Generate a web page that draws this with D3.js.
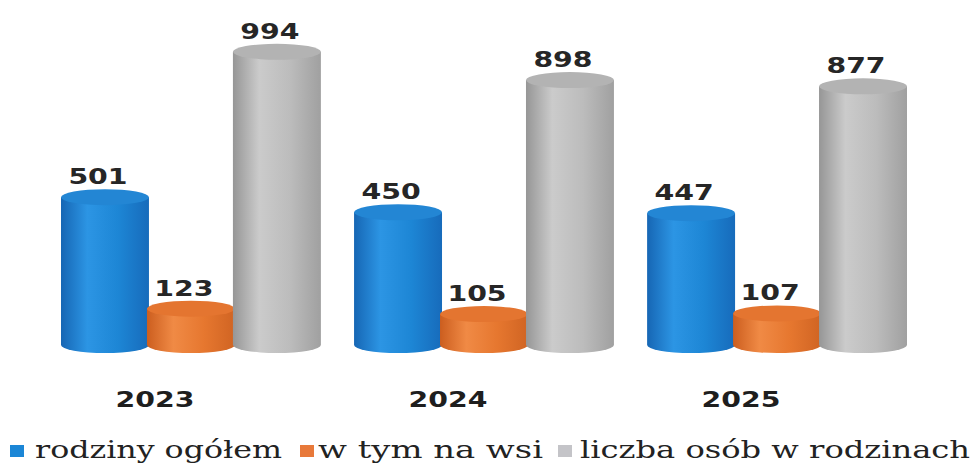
<!DOCTYPE html>
<html>
<head>
<meta charset="utf-8">
<script src="https://cdn.jsdelivr.net/npm/d3@7"></script>
<style>
  body { margin: 0; background: #fff; }
  svg { display: block; }
</style>
</head>
<body>
<div id="wykres"></div>
<script>
// ---- dane ----
const lata = ["2023", "2024", "2025"];
const serie = ["rodziny ogółem", "w tym na wsi", "liczba osób w rodzinach"];
const rodzinyOgolem = [501, 450, 447];
const naWsi = [123, 105, 107];
const osobWRodzinach = [994, 898, 877];

const kolory = {
  "rodziny ogółem": ["#1666b4", "#2c95e4", "#1d86d5", "#176bbb"],
  "w tym na wsi": ["#cc5e1f", "#f08a45", "#e6772f", "#d06423"],
  "liczba osób w rodzinach": ["#969696", "#cbcbcb", "#bcbcbc", "#a0a0a0"]
};
const kolorGory = {
  "rodziny ogółem": "#2386d4",
  "w tym na wsi": "#e47530",
  "liczba osób w rodzinach": "#b3b3b3"
};
const kolorLegendy = ["#1b86d6", "#e8793a", "#c4c4c8"];

const width = 974, height = 463;
const ry = 8;

const svg = d3.select("#wykres").append("svg")
  .attr("width", width).attr("height", height);

const defs = svg.append("defs");
serie.forEach((s, i) => {
  const g = defs.append("linearGradient").attr("id", "grad" + i)
    .attr("x1", "0%").attr("x2", "100%").attr("y1", "0%").attr("y2", "0%");
  const c = kolory[s];
  g.append("stop").attr("offset", "0%").attr("stop-color", c[0]);
  g.append("stop").attr("offset", "30%").attr("stop-color", c[1]);
  g.append("stop").attr("offset", "65%").attr("stop-color", c[2]);
  g.append("stop").attr("offset", "100%").attr("stop-color", c[3]);
});

const x0 = d3.scaleBand().domain(lata).range([62, 906]).paddingInner(0.12);
const x1 = d3.scaleBand().domain(serie).range([0, x0.bandwidth()]);
const y = d3.scaleLinear().domain([0, 1000]).range([345, 50]);

const dane = lata.map((rok, i) => ({
  rok,
  wartosci: [rodzinyOgolem[i], naWsi[i], osobWRodzinach[i]].map((v, j) => ({ seria: serie[j], idx: j, v }))
}));

const grupy = svg.selectAll("g.grupa").data(dane).enter().append("g")
  .attr("class", "grupa")
  .attr("transform", d => `translate(${x0(d.rok)},0)`);

const walce = grupy.selectAll("g.walec").data(d => d.wartosci).enter().append("g")
  .attr("class", "walec");

// cialo walca
walce.append("path")
  .attr("d", d => {
    const w = x1.bandwidth() + 2;
    const xl = x1(d.seria) - 1, xr = xl + w;
    const rx = w / 2;
    const yt = y(d.v), yb = y(0);
    return `M${xl},${yt} L${xl},${yb} A${rx},${ry} 0 0 0 ${xr},${yb} L${xr},${yt} Z`;
  })
  .attr("fill", d => `url(#grad${d.idx})`);

// gorna elipsa
walce.append("ellipse")
  .attr("cx", d => x1(d.seria) + x1.bandwidth() / 2)
  .attr("cy", d => y(d.v))
  .attr("rx", (x1.bandwidth() + 2) / 2)
  .attr("ry", ry)
  .attr("fill", d => kolorGory[d.seria]);

// etykiety wartosci (rozciagniete w poziomie)
const sx = 1.35;
walce.append("text")
  .attr("transform", d => `translate(${x1(d.seria) + x1.bandwidth() / 2 - 7},${y(d.v) - ry - 5}) scale(${sx},1)`)
  .attr("text-anchor", "middle")
  .attr("font-family", "DejaVu Sans")
  .attr("font-weight", "bold")
  .attr("font-size", 21)
  .attr("fill", "#262626")
  .text(d => d.v);

// lata
grupy.append("text")
  .attr("transform", `translate(${x0.bandwidth() / 2 - 36},407) scale(${sx},1)`)
  .attr("text-anchor", "middle")
  .attr("font-family", "DejaVu Sans")
  .attr("font-weight", "bold")
  .attr("font-size", 21)
  .attr("fill", "#1e1e1e")
  .text(d => d.rok);

// legenda
const legenda = svg.append("g").attr("transform", "translate(0,458)");
const pozycjeKw = [10, 300, 558];
const pozycjeTxt = [35, 318, 580];
const szerokosciTxt = [247, 225, 390];
serie.forEach((s, i) => {
  legenda.append("rect").attr("x", pozycjeKw[i]).attr("y", -13).attr("width", 14).attr("height", 12)
    .attr("fill", kolorLegendy[i]);
  legenda.append("text").attr("x", pozycjeTxt[i]).attr("y", 0)
    .attr("font-family", "DejaVu Serif")
    .attr("font-size", 24)
    .attr("fill", "#222")
    .attr("textLength", szerokosciTxt[i])
    .attr("lengthAdjust", "spacingAndGlyphs")
    .text(s);
});
</script>
</body>
</html>
